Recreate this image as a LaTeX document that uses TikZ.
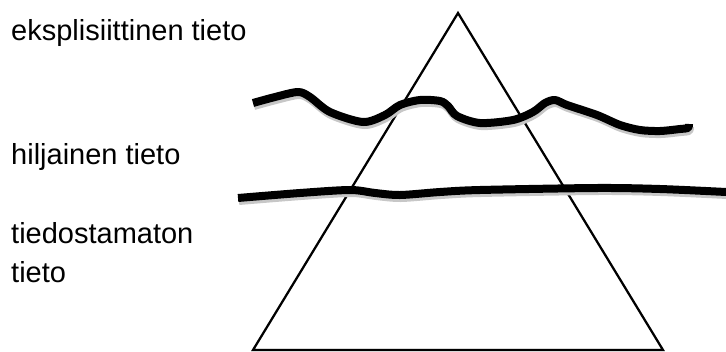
\documentclass[tikz,border=0pt]{standalone}
\usepackage{fontspec}
\setmainfont{Liberation Sans}
\begin{document}
\begin{tikzpicture}[x=1pt,y=-1pt,
  lbl/.style={anchor=base west,inner sep=0pt,font=\fontsize{29}{39}\selectfont,align=left},
  shadowcol/.style={draw=black!22},
  thick line/.style={line width=8pt,line join=round,line cap=butt},
  tri line/.style={line width=2.2pt,line join=miter},
  shd/.style={shift={(1,3)}}]
\useasboundingbox (0,0) rectangle (726,351);
% triangle
\coordinate (apex) at (458,13);
\coordinate (bl) at (253,350);
\coordinate (br) at (663,350);
\draw[tri line,shadowcol,shd] (apex) -- (bl) -- (br) -- cycle;
\draw[tri line] (apex) -- (bl) -- (br) -- cycle;
% wavy line
\def\wavy{(253,103) (275,97) (298,92) (310,97) (330,112) (363,122) (385,115) (400,105) (420,100) (440,101) (448,106) (457,116) (480,123) (513,120) (533,112) (545,103) (555,100) (567,105) (597,115) (620,125) (640,130) (660,131) (680,129) (688,128) (689,124)}
\draw[thick line,shadowcol,shd] plot[smooth,tension=0.5] coordinates {\wavy};
\draw[thick line] plot[smooth,tension=0.5] coordinates {\wavy};
% straight line
\def\strt{(238,198) (300,193) (350,190) (375,193) (400,195) (440,192) (480,190) (597,188) (660,189) (726,192)}
\draw[thick line,shadowcol,shd] plot[smooth,tension=0.5] coordinates {\strt};
\draw[thick line] plot[smooth,tension=0.5] coordinates {\strt};
% labels
\node[lbl] (ek) at (11,40) {eksplisiittinen tieto};
\node[lbl] (hi) at (11,164) {hiljainen tieto};
\node[lbl] (ti) at (11,282) {tiedostamaton\\tieto};
\end{tikzpicture}
\end{document}
